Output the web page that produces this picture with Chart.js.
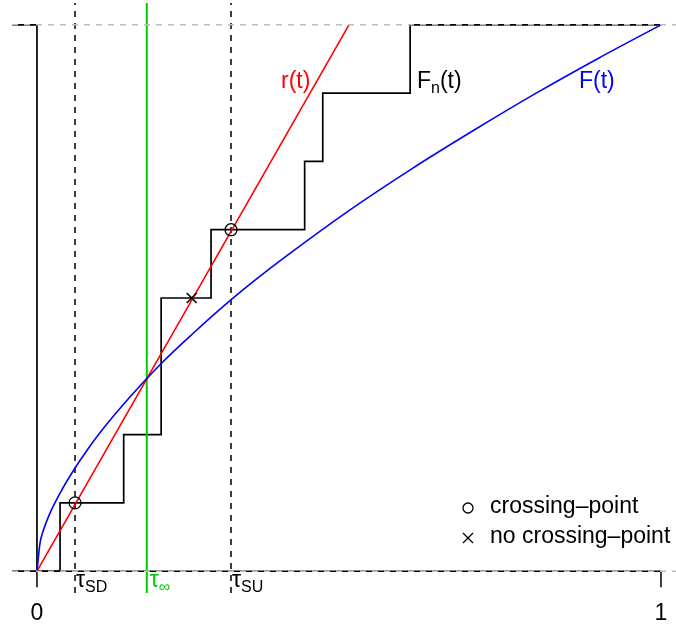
<!DOCTYPE html>
<html>
<head>
<meta charset="utf-8">
<script src="https://cdn.jsdelivr.net/npm/chart.js@4/dist/chart.umd.min.js"></script>
<style>
  html, body { margin: 0; padding: 0; background: #fff; }
  #wrap { width: 676px; height: 627px; }
</style>
</head>
<body>
<div id="wrap"><canvas id="crossChart" width="676" height="627"></canvas></div>
<script>
// Empirical distribution F_n(t): jump points and levels
const ecdfX = [-0.04, 0.037, 0.139, 0.199, 0.279, 0.429, 0.458, 0.598, 1.0];
const ecdfY = [0, 0.125, 0.25, 0.5, 0.625, 0.75, 0.875, 1, 1];

// Theoretical F(t)
const fT = [0, 0.005, 0.01, 0.02, 0.04, 0.06, 0.08, 0.1, 0.15, 0.2, 0.25, 0.3, 0.35, 0.4, 0.5, 0.6, 0.7, 0.8, 0.9, 1];
const fY = [0, 0.052, 0.074, 0.104, 0.149, 0.187, 0.221, 0.252, 0.32, 0.381, 0.435, 0.486, 0.533, 0.577, 0.66, 0.736, 0.807, 0.875, 0.939, 1];

// Boundary line r(t)
const rT = [0, 0.5];
const rY = [0, 1];

// Boundary crossing times
const tauSD = 0.061;
const tauInf = 0.176;
const tauSU = 0.311;

// Marked points
const crossT = [0.061, 0.311];
const crossY = [0.125, 0.625];
const noCrossT = [0.248];
const noCrossY = [0.5];

// Axis ticks
const xTicks = [0, 1];
const xTickLabels = ['0', '1'];

const X_MIN = -0.04, X_MAX = 1.0241;
const Y_MIN = -0.04, Y_MAX = 1.04;
const FONT = '"Liberation Sans", Arial, Helvetica, sans-serif';

const pts = (xs, ys) => xs.map((x, i) => ({ x: x, y: ys[i] }));

function line(data, color, width, dash, order, extra) {
    return Object.assign({
        data: data,
        showLine: true,
        borderColor: color,
        backgroundColor: color,
        borderWidth: width,
        borderDash: dash || [],
        pointRadius: 0,
        fill: false,
        order: order
    }, extra || {});
}

// Axis, subscripted labels and the legend box
const decorations = {
    id: 'decorations',
    beforeDatasetsDraw(chart) {
        const ctx = chart.ctx;
        const xs = chart.scales.x, ys = chart.scales.y;
        const y0 = ys.getPixelForValue(0);
        ctx.save();
        ctx.strokeStyle = '#000';
        ctx.lineWidth = 1.5;
        ctx.beginPath();
        ctx.moveTo(xs.getPixelForValue(xTicks[0]), y0);
        ctx.lineTo(xs.getPixelForValue(xTicks[xTicks.length - 1]), y0);
        xTicks.forEach(t => {
            const px = xs.getPixelForValue(t);
            ctx.moveTo(px, y0);
            ctx.lineTo(px, y0 + 16);
        });
        ctx.stroke();
        ctx.fillStyle = '#000';
        ctx.font = '23px ' + FONT;
        ctx.textAlign = 'center';
        ctx.textBaseline = 'middle';
        xTicks.forEach((t, i) => {
            ctx.fillText(xTickLabels[i], xs.getPixelForValue(t), 614);
        });
        ctx.restore();
    },
    afterDraw(chart) {
        const ctx = chart.ctx;
        const xs = chart.scales.x;
        ctx.save();
        ctx.textBaseline = 'alphabetic';
        ctx.textAlign = 'left';

        function sub(x, y, main, small, after, color) {
            ctx.fillStyle = color;
            ctx.font = '23px ' + FONT;
            ctx.fillText(main, x, y);
            let w = ctx.measureText(main).width;
            ctx.font = '16px ' + FONT;
            ctx.fillText(small, x + w, y + 5);
            w += ctx.measureText(small).width;
            if (after) {
                ctx.font = '23px ' + FONT;
                ctx.fillText(after, x + w, y);
            }
        }

        // Crossing-time labels under the axis
        sub(xs.getPixelForValue(tauSD) + 1, 587, '\u03C4', 'SD', '', '#000');
        sub(xs.getPixelForValue(tauInf) + 3, 587, '\u03C4', '\u221E', '', '#00cd00');
        sub(xs.getPixelForValue(tauSU) + 1, 587, '\u03C4', 'SU', '', '#000');

        // Curve labels
        ctx.font = '23px ' + FONT;
        ctx.fillStyle = '#ff0000';
        ctx.fillText('r(t)', 281, 88);
        sub(417, 88, 'F', 'n', '(t)', '#000');
        ctx.fillStyle = '#0000ff';
        ctx.font = '23px ' + FONT;
        ctx.fillText('F(t)', 579, 88);

        // Legend
        ctx.strokeStyle = '#000';
        ctx.lineWidth = 1.3;
        ctx.beginPath();
        ctx.arc(468, 508, 5, 0, Math.PI * 2);
        ctx.stroke();
        ctx.beginPath();
        ctx.moveTo(463, 533); ctx.lineTo(473, 543);
        ctx.moveTo(473, 533); ctx.lineTo(463, 543);
        ctx.stroke();
        ctx.fillStyle = '#000';
        ctx.font = '23px ' + FONT;
        ctx.textBaseline = 'middle';
        ctx.fillText('crossing\u2013point', 490, 507);
        ctx.fillText('no crossing\u2013point', 490, 537);
        ctx.restore();
    }
};

const ctx = document.getElementById('crossChart').getContext('2d');
new Chart(ctx, {
    type: 'scatter',
    data: {
        datasets: [
            // markers on top
            line(pts(crossT, crossY), '#000', 1.3, null, 1, {
                showLine: false, pointRadius: 6, pointStyle: 'circle',
                backgroundColor: 'rgba(0,0,0,0)', pointBorderWidth: 1.3
            }),
            line(pts(noCrossT, noCrossY), '#000', 1.6, null, 1, {
                showLine: false, pointRadius: 7, pointStyle: 'crossRot', pointBorderWidth: 1.6
            }),
            // reference levels 0 and 1
            line(pts([X_MIN, X_MAX], [0, 0]), '#bebebe', 1.5, [6, 6], 2),
            line(pts([X_MIN, X_MAX], [1, 1]), '#bebebe', 1.5, [6, 6], 2),
            line(pts(fT, fY), '#0000ff', 1.6, null, 3, { cubicInterpolationMode: 'monotone' }),
            line(pts(rT, rY), '#ff0000', 1.6, null, 4),
            line(pts([tauInf, tauInf], [Y_MIN, Y_MAX]), '#00cd00', 2, null, 5),
            line(pts([tauSD, tauSD], [Y_MIN, Y_MAX]), '#000', 1.5, [6, 6], 6),
            line(pts([tauSU, tauSU], [Y_MIN, Y_MAX]), '#000', 1.5, [6, 6], 6),
            line(pts(ecdfX, ecdfY), '#000', 1.7, null, 7, { stepped: 'before' }),
            line(pts([X_MIN, 0, 0], [1, 1, 0]), '#000', 1.7, null, 7)
        ]
    },
    options: {
        responsive: false,
        animation: false,
        events: [],
        layout: { autoPadding: false, padding: { left: 12, right: 0, top: 3, bottom: 34 } },
        plugins: {
            legend: { display: false },
            tooltip: { enabled: false }
        },
        scales: {
            x: { type: 'linear', min: X_MIN, max: X_MAX, display: false },
            y: { type: 'linear', min: Y_MIN, max: Y_MAX, display: false }
        }
    },
    plugins: [decorations]
});
</script>
</body>
</html>
